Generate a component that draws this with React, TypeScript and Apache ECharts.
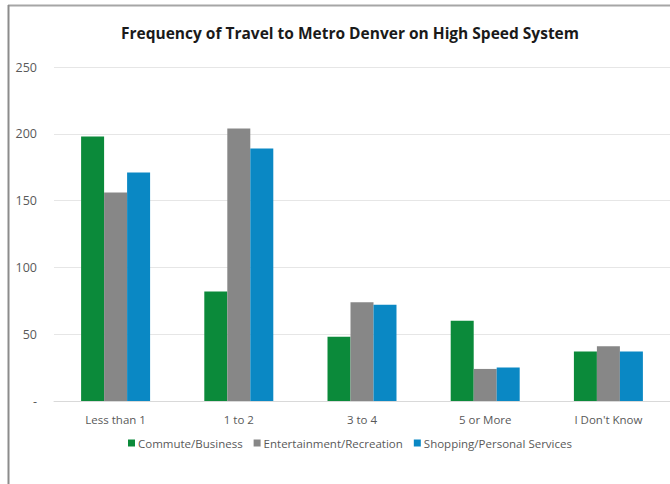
import React, { useEffect, useRef } from "react";
import * as echarts from "echarts";

const categories = ["Less than 1", "1 to 2", "3 to 4", "5 or More", "I Don't Know"];
const commuteBusiness = [198, 82, 48, 60, 37];
const entertainmentRecreation = [156, 204, 74, 24, 41];
const shoppingPersonal = [171, 189, 72, 25, 37];
const seriesNames = ["Commute/Business", "Entertainment/Recreation", "Shopping/Personal Services"];
const seriesColors = ["#0b8a3a", "#878787", "#0a88c4"];

export default function App() {
  const ref = useRef<HTMLDivElement>(null);
  useEffect(() => {
    if (!ref.current) return;
    const chart = echarts.init(ref.current, null, { renderer: "svg" });
    const dataSets = [commuteBusiness, entertainmentRecreation, shoppingPersonal];
    chart.setOption({
      animation: false,
      backgroundColor: "#ffffff",
      title: {
        text: "Frequency of Travel to Metro Denver on High Speed System",
        left: 345,
        textAlign: "center",
        top: 20,
        textStyle: { fontFamily: "Open Sans", fontSize: 15.5, fontWeight: "bold", color: "#1a1a1a" },
      },
      legend: {
        top: 432,
        left: 123,
        itemWidth: 7,
        itemHeight: 7,
        itemGap: 11,
        icon: "rect",
        textStyle: { fontFamily: "Open Sans", fontSize: 11.5, color: "#595959", padding: [0, 0, 0, -2] },
        data: seriesNames,
      },
      grid: { left: 54, top: 67, width: 621, height: 334, containLabel: false },
      xAxis: {
        type: "category",
        data: categories,
        axisTick: { show: false },
        axisLine: { lineStyle: { color: "#d9d9d9" } },
        axisLabel: { fontFamily: "Open Sans", fontSize: 11.5, color: "#595959", margin: 12 },
      },
      yAxis: {
        type: "value",
        min: 0,
        max: 250,
        interval: 50,
        axisLine: { show: false },
        axisTick: { show: false },
        splitLine: { lineStyle: { color: "#e6e6e6" } },
        axisLabel: {
          fontFamily: "Open Sans",
          fontSize: 12.5,
          color: "#595959",
          margin: 17,
          formatter: (v: number) => (v === 0 ? "-" : String(v)),
        },
      },
      series: seriesNames.map((name, i) => ({
        name,
        type: "bar",
        data: dataSets[i],
        barGap: "0%",
        barCategoryGap: "44%",
        itemStyle: { color: seriesColors[i] },
      })),
      graphic: [
        { type: "line", shape: { x1: 8, y1: 5.5, x2: 670, y2: 5.5 }, style: { stroke: "#a6a6a6", lineWidth: 2 } },
        { type: "line", shape: { x1: 8.5, y1: 5, x2: 8.5, y2: 484 }, style: { stroke: "#8c8c8c", lineWidth: 2 } },
      ],
    });
    return () => chart.dispose();
  }, []);
  return (
    <div
      ref={ref}
      style={{ position: "fixed", left: 0, top: 0, width: 670, height: 484, background: "#fff" }}
    />
  );
}
